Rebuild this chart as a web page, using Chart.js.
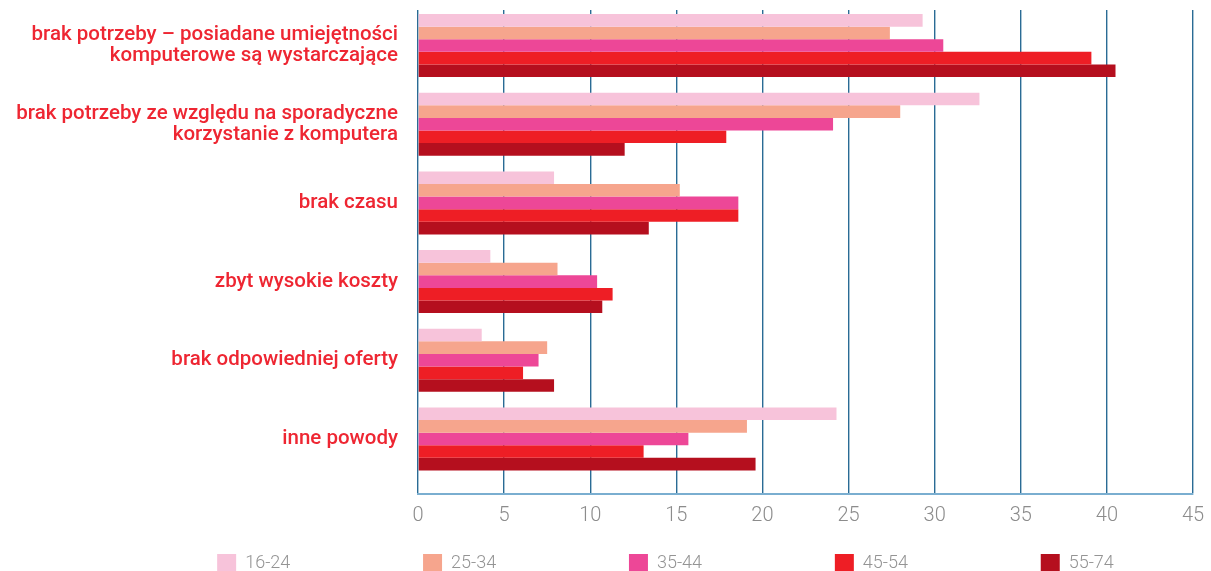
<!DOCTYPE html>
<html>
<head>
<meta charset="utf-8">
<script src="https://cdn.jsdelivr.net/npm/chart.js@4"></script>
<style>
  html, body { margin: 0; padding: 0; background: #ffffff; }
  #wrap { width: 1211px; height: 571px; }
</style>
</head>
<body>
<div id="wrap"><canvas id="c" width="1211" height="571"></canvas></div>
<script>
const categories = [
  ["brak potrzeby – posiadane umiejętności", "komputerowe są wystarczające"],
  ["brak potrzeby ze względu na sporadyczne", "korzystanie z komputera"],
  "brak czasu",
  "zbyt wysokie koszty",
  "brak odpowiedniej oferty",
  "inne powody"
];
const seriesNames = ["16-24", "25-34", "35-44", "45-54", "55-74"];
const v16_24 = [29.3, 32.6, 7.9, 4.2, 3.7, 24.3];
const v25_34 = [27.4, 28.0, 15.2, 8.1, 7.5, 19.1];
const v35_44 = [30.5, 24.1, 18.6, 10.4, 7.0, 15.7];
const v45_54 = [39.1, 17.9, 18.6, 11.3, 6.1, 13.1];
const v55_74 = [40.5, 12.0, 13.4, 10.7, 7.9, 19.6];
const xTicks = [0, 5, 10, 15, 20, 25, 30, 35, 40, 45];

const colors = ['#f7c3da', '#f6a58d', '#ed4797', '#ee1e25', '#b50f1e'];
const allValues = [v16_24, v25_34, v35_44, v45_54, v55_74];

const datasets = allValues.map((vals, si) => ({
  label: seriesNames[si],
  data: vals.map((v, i) => ({ x: v, y: i })),
  backgroundColor: colors[si],
  borderWidth: 0,
  categoryPercentage: 0.8,
  barPercentage: 1.0
}));

const PLOT_LEFT = 418;
const LEGEND_SHIFT = 69;

const legendShift = {
  id: 'legendShift',
  afterLayout(chart) {
    const lg = chart.legend;
    if (lg) { lg.left += LEGEND_SHIFT; lg.right += LEGEND_SHIFT; }
  }
};

new Chart(document.getElementById('c'), {
  type: 'bar',
  data: { datasets },
  plugins: [legendShift],
  options: {
    indexAxis: 'y',
    responsive: false,
    animation: false,
    layout: { padding: { top: 10, right: 18, bottom: -12, left: 0 } },
    plugins: {
      tooltip: { enabled: false },
      legend: {
        position: 'bottom',
        labels: {
          boxWidth: 19,
          boxHeight: 19,
          padding: 10,
          color: '#949494',
          font: { family: 'Roboto', weight: 300, size: 18 },
          generateLabels: (chart) => chart.data.datasets.map((ds, i, arr) => ({
            text: ds.label + (i < arr.length - 1 ? ' '.repeat(28) : ''),
            fillStyle: ds.backgroundColor,
            strokeStyle: ds.backgroundColor,
            lineWidth: 0,
            hidden: false,
            datasetIndex: i,
            fontColor: '#949494'
          }))
        }
      }
    },
    scales: {
      x: {
        type: 'linear',
        min: 0,
        max: 45,
        afterBuildTicks: (s) => { s.ticks = xTicks.map(v => ({ value: v })); },
        afterFit: (s) => { s.height = 50; s.paddingLeft = 0; s.paddingRight = 0; },
        grid: { color: '#2a6b95', lineWidth: 1.4, drawTicks: false },
        border: { display: true, color: '#7aaed0', width: 2 },
        ticks: {
          padding: 10,
          color: '#8c8c8c',
          font: { family: 'Roboto', weight: 300, size: 20 }
        }
      },
      y: {
        type: 'linear',
        reverse: true,
        offset: false,
        min: -0.452,
        max: 5.70,
        afterBuildTicks: (s) => { s.ticks = categories.map((_, i) => ({ value: i })); },
        afterFit: (s) => { s.width = PLOT_LEFT; s.paddingTop = 0; s.paddingBottom = 0; },
        grid: { display: false, drawTicks: false },
        border: { display: false },
        ticks: {
          padding: 20,
          color: '#ee2632',
          font: { family: 'Roboto', weight: 500, size: 20.5, lineHeight: 1.03 },
          callback: (v) => categories[v]
        }
      }
    }
  }
});
</script>
</body>
</html>
